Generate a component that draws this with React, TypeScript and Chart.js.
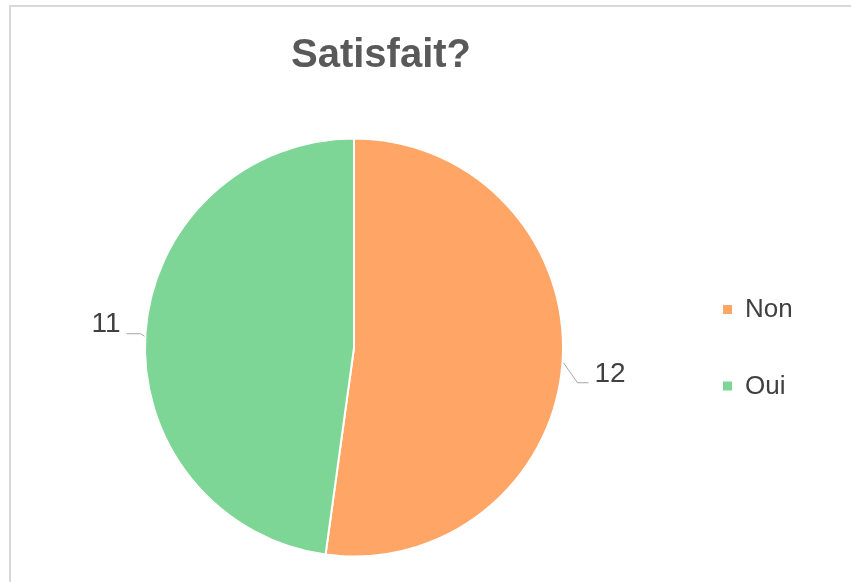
import React, { useEffect, useRef } from "react";
import { Chart, registerables } from "chart.js";

Chart.register(...registerables);

const TITLE = "Satisfait?";
const CATEGORIES = ["Non", "Oui"];
const VALUES = [12, 11];
const COLORS = ["#FFA566", "#7DD695"];

const FONT = "'Liberation Sans', Arial, Helvetica, sans-serif";

const overlayPlugin = {
  id: "overlay",
  afterDraw(chart: any) {
    const ctx = chart.ctx as CanvasRenderingContext2D;
    ctx.save();
    // Title
    ctx.fillStyle = "#595959";
    ctx.font = `bold 40px ${FONT}`;
    ctx.textAlign = "center";
    ctx.textBaseline = "alphabetic";
    ctx.fillText(TITLE, 381, 67);

    // Data labels with leader lines
    const meta = chart.getDatasetMeta(0);
    meta.data.forEach((arc: any, i: number) => {
      const mid = (arc.startAngle + arc.endAngle) / 2;
      const px = arc.x + Math.cos(mid) * arc.outerRadius;
      const py = arc.y + Math.sin(mid) * arc.outerRadius;
      ctx.strokeStyle = "#A6A6A6";
      ctx.lineWidth = 1;
      ctx.fillStyle = "#404040";
      ctx.font = `28px ${FONT}`;
      ctx.textBaseline = "alphabetic";
      ctx.beginPath();
      if (Math.cos(mid) >= 0) {
        ctx.moveTo(px + 1, py + 1);
        ctx.lineTo(px + 15, py + 21);
        ctx.lineTo(px + 26, py + 21);
        ctx.stroke();
        ctx.textAlign = "left";
        ctx.fillText(String(VALUES[i]), px + 32, py + 20.5);
      } else {
        ctx.moveTo(px - 1, py + 3);
        ctx.lineTo(px - 5, py + 0.5);
        ctx.lineTo(px - 19, py + 0.5);
        ctx.stroke();
        ctx.textAlign = "right";
        ctx.fillText(String(VALUES[i]), px - 25, py - 1.5);
      }
    });

    // Legend
    const labels = chart.data.labels as string[];
    const bg = chart.data.datasets[0].backgroundColor as string[];
    labels.forEach((lab, i) => {
      const baseY = 317 + i * 76.5;
      ctx.fillStyle = bg[i];
      ctx.fillRect(723, baseY - 12, 9, 9);
      ctx.fillStyle = "#404040";
      ctx.font = `26px ${FONT}`;
      ctx.textAlign = "left";
      ctx.fillText(lab, 745, baseY);
    });
    ctx.restore();
  },
};

export default function App() {
  const ref = useRef<HTMLCanvasElement | null>(null);
  useEffect(() => {
    if (!ref.current) return;
    const chart = new Chart(ref.current, {
      type: "pie",
      data: {
        labels: CATEGORIES,
        datasets: [
          {
            data: VALUES,
            backgroundColor: COLORS,
            borderColor: "#FFFFFF",
            borderWidth: 2,
          },
        ],
      },
      options: {
        responsive: false,
        devicePixelRatio: 1,
        animation: false,
        layout: {
          padding: { left: 144, right: 287, top: 137, bottom: 24 },
        },
        plugins: {
          legend: { display: false },
          title: { display: false },
          tooltip: { enabled: false },
        },
      },
      plugins: [overlayPlugin],
    });
    return () => chart.destroy();
  }, []);

  return (
    <div style={{ position: "fixed", left: 0, top: 0, width: 851, height: 582, background: "#fff", overflow: "hidden" }}>
      <div
        style={{
          position: "absolute",
          left: 9,
          top: 5,
          width: 1000,
          height: 1000,
          borderLeft: "2px solid #D9D9D9",
          borderTop: "2px solid #D9D9D9",
        }}
      />
      <canvas ref={ref} width={851} height={582} style={{ position: "absolute", left: 0, top: 0, display: "block" }} />
    </div>
  );
}
